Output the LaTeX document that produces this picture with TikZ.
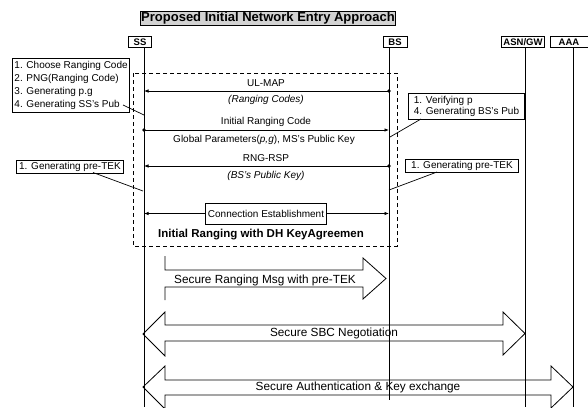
\documentclass[tikz,border=0pt]{standalone}
\usepackage{fontspec}
\setmainfont{Liberation Sans}
\usetikzlibrary{arrows.meta,calc}
\begin{document}
\begin{tikzpicture}[x=1pt,y=-1pt,
  titlebox/.style={draw, line width=0.9pt, fill=gray!35, inner sep=1pt, minimum width=250, minimum height=13,
    font=\bfseries\fontsize{13}{13}\selectfont},
  actor/.style={draw, line width=1pt, inner sep=1pt, minimum height=11, font=\bfseries\fontsize{9.5}{10}\selectfont},
  life/.style={line width=0.9pt},
  note/.style={draw, line width=0.9pt, align=left, inner sep=2pt, font=\fontsize{10}{13}\selectfont},
  lbl/.style={inner sep=0pt, font=\fontsize{10}{11}\selectfont},
  ilbl/.style={inner sep=0pt, font=\itshape\fontsize{10}{11}\selectfont},
  msg/.style={-{Latex[length=4.5pt,width=3.5pt]}, line width=0.7pt},
  pin/.style={line width=0.7pt},
  dot/.style={circle, fill, inner sep=0pt, minimum size=3.8pt},
  big/.style={draw, line width=0.8pt, line join=miter},
  biglbl/.style={inner sep=0pt, font=\fontsize{11.8}{12}\selectfont},
  frame/.style={line width=0.8pt, dash pattern=on 4pt off 3pt}
]
\useasboundingbox (0,0) rectangle (588,407);
\clip (0,0) rectangle (588,407);

% title and actors
\node[titlebox] (title) at (268,18.5) {Proposed Initial Network Entry Approach};
\node[actor, minimum width=23] (ss) at (140,42) {SS};
\node[actor, minimum width=24] (bs) at (395,42) {BS};
\node[actor, minimum width=43] (asn) at (523,42) {ASN/GW};
\node[actor, minimum width=38] (aaa) at (569,42) {AAA};

% lifeline ends
\coordinate (ssT) at (144,47.5);  \coordinate (ssB) at (144,407);
\coordinate (bsT) at (389,47.5);  \coordinate (bsB) at (389,400);
\coordinate (asnT) at (525,47.5); \coordinate (asnB) at (525,407);
\coordinate (aaaT) at (573,47.5); \coordinate (aaaB) at (573,407);
\draw[life] (ssT) -- (ssB);
\draw[life] (bsT) -- (bsB);
\draw[life] (asnT) -- (asnB);
\draw[life] (aaaT) -- (aaaB);

% dashed frame
\draw[frame] (133,73) rectangle (397,246);

% UL-MAP
\coordinate (bs1) at (389,91); \coordinate (ss1) at (144,91);
\draw[msg] (bs1) -- (ss1);
\node[dot] (d1) at (bs1) {};
\node[lbl] (ulmap) at (266,83) {UL-MAP};
\node[ilbl] (rcodes) at (266,100) {(Ranging Codes)};

% Initial Ranging Code
\coordinate (ss2) at (144,130); \coordinate (bs2) at (389,130);
\draw[msg] (ss2) -- (bs2);
\node[dot] (d2) at (ss2) {};
\node[lbl] (irc) at (266,122) {Initial Ranging Code};
\node[lbl] (gp) at (264,139.5) {Global Parameters(\textit{p,g}), MS’s Public Key};

% RNG-RSP
\coordinate (bs3) at (389,166); \coordinate (ss3) at (144,166);
\draw[msg] (bs3) -- (ss3);
\node[dot] (d3) at (bs3) {};
\node[lbl] (rngrsp) at (266,158.5) {RNG-RSP};
\node[ilbl] (bspk) at (266,176) {(BS’s Public Key)};

% Connection establishment
\node[draw, line width=0.9pt, minimum width=120, minimum height=21, lbl, inner sep=2pt] (conn) at (266,213.5) {Connection Establishment};
\coordinate (ss4) at (144,213.5); \coordinate (bs4) at (389,213.5);
\draw[msg] (conn.west) -- (ss4);
\draw[msg] (conn.east) -- (bs4);
\node[inner sep=0pt, font=\bfseries\fontsize{11.5}{12}\selectfont] (irdh) at (261,235) {Initial Ranging with DH KeyAgreemen};

% notes
\node[note, anchor=north west, minimum width=111, minimum height=54] (n1) at (12,58)
  {1. Choose Ranging Code\\2. PNG(Ranging Code)\\3. Generating p.g\\4. Generating SS’s Pub};
\coordinate (n1a) at (123,105); \coordinate (n1b) at (144,115);
\draw[pin] (n1a) -- (n1b);

\node[note, anchor=north west, minimum width=116, minimum height=26, font=\fontsize{10}{11.5}\selectfont] (n2) at (408,93)
  {1. Verifying p\\4. Generating BS’s Pub};
\coordinate (n2a) at (421,119); \coordinate (n2b) at (390,137);
\draw[pin] (n2a) -- (n2b);

\node[note, anchor=north west, minimum width=107, minimum height=13, inner sep=1pt] (n3) at (16,159.5)
  {1. Generating pre-TEK};
\coordinate (n3a) at (93,172.5); \coordinate (n3b) at (143,191);
\draw[pin] (n3a) -- (n3b);

\node[note, anchor=north west, minimum width=113, minimum height=13, inner sep=1pt] (n4) at (405,159)
  {1. Generating pre-TEK};
\coordinate (n4a) at (437,172); \coordinate (n4b) at (389,190);
\draw[pin] (n4a) -- (n4b);

% big arrow 1 (open tail)
\draw[big] (165,256) -- (165,270) -- (363,270) -- (363,258) -- (386,278.5) -- (363,299) -- (363,287) -- (165,287) -- (165,300);
\node[biglbl] (a1) at (265,280) {Secure Ranging Msg with pre-TEK};

% big arrow 2
\draw[big] (143,334) -- (165,312) -- (165,325) -- (503,325) -- (503,312) -- (525,333.5) -- (503,355) -- (503,341) -- (165,341) -- (165,356) -- cycle;
\node[biglbl] (a2) at (334,333.5) {Secure SBC Negotiation};

% big arrow 3
\draw[big] (143,387) -- (165,366) -- (165,380) -- (551,380) -- (551,366) -- (573,387) -- (551,408) -- (551,395) -- (165,395) -- (165,409) -- cycle;
\node[biglbl] (a3) at (358,387.5) {Secure Authentication \& Key exchange};
\end{tikzpicture}
\end{document}
